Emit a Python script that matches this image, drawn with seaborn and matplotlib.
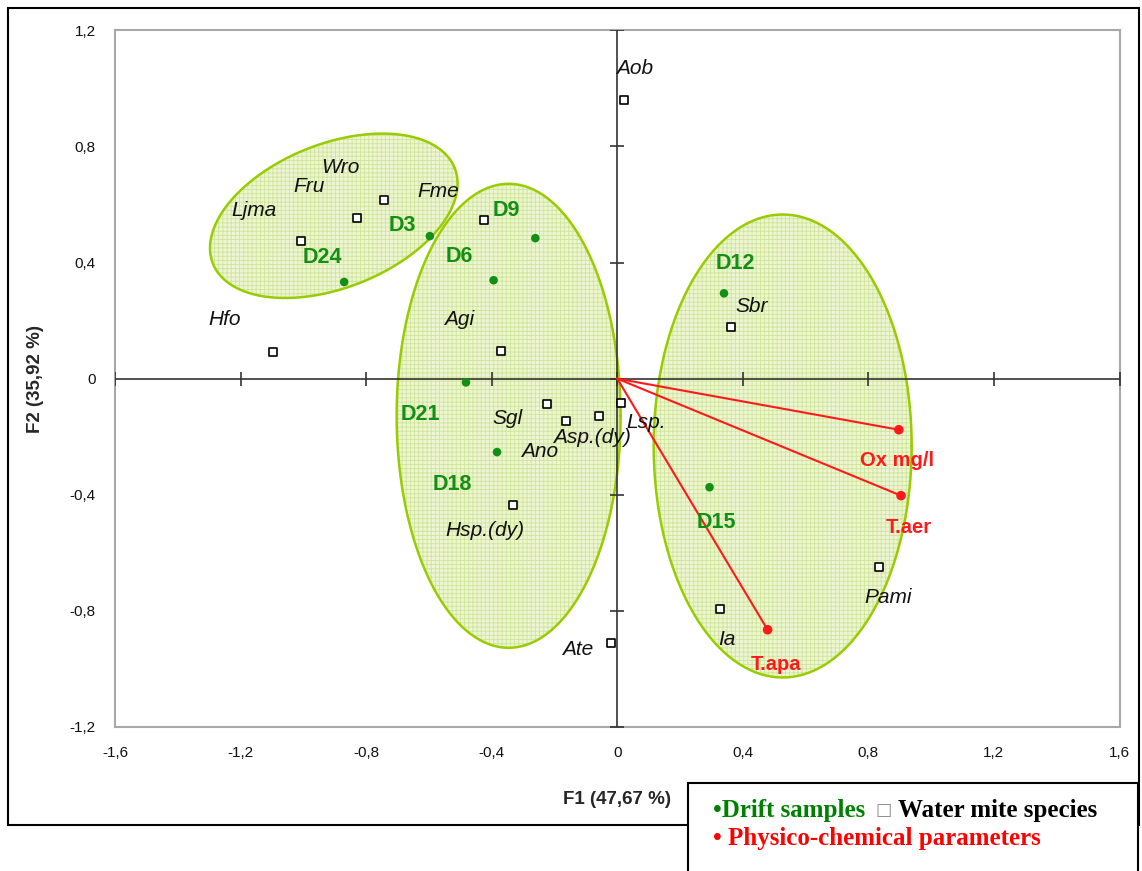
import numpy as np
import pandas as pd
import seaborn as sns
import matplotlib.pyplot as plt
from matplotlib.patches import Rectangle

# --- data ----------------------------------------------------------------
species = ["Aob", "Wro", "Fru", "Ljma", "Fme", "Hfo", "Agi", "Sgl", "Ano",
           "Asp.(dy)", "Lsp.", "Hsp.(dy)", "Ate", "Ia", "Pami", "Sbr"]
species_f1 = [0.020, -0.744, -0.830, -1.006, -0.424, -1.098, -0.371, -0.225,
              -0.162, -0.057, 0.012, -0.331, -0.021, 0.327, 0.834, 0.362]
species_f2 = [0.959, 0.617, 0.555, 0.473, 0.548, 0.093, 0.095, -0.089,
              -0.145, -0.127, -0.083, -0.436, -0.909, -0.795, -0.650, 0.177]

samples = ["D3", "D6", "D9", "D12", "D15", "D18", "D21", "D24"]
samples_f1 = [-0.597, -0.394, -0.261, 0.340, 0.294, -0.383, -0.482, -0.870]
samples_f2 = [0.491, 0.339, 0.484, 0.294, -0.374, -0.253, -0.013, 0.333]

params = ["Ox mg/l", "T.aer", "T.apa"]
params_f1 = [0.897, 0.904, 0.479]
params_f2 = [-0.176, -0.403, -0.865]

xticks = [-1.6, -1.2, -0.8, -0.4, 0.0, 0.4, 0.8, 1.2, 1.6]
xtick_labels = ["-1,6", "-1,2", "-0,8", "-0,4", "0", "0,4", "0,8", "1,2", "1,6"]
yticks = [-1.2, -0.8, -0.4, 0.0, 0.4, 0.8, 1.2]
ytick_labels = ["-1,2", "-0,8", "-0,4", "0", "0,4", "0,8", "1,2"]

# label offsets in pixels (dx, dy up)
species_off = {"Aob": (11, 32), "Wro": (-43, 32), "Fru": (-48, 31), "Ljma": (-47, 31),
               "Fme": (-46, 28), "Hfo": (-48, 32), "Agi": (-42, 32), "Sgl": (-39, -14),
               "Ano": (-27, -31), "Asp.(dy)": (-7, -22), "Lsp.": (25, -20),
               "Hsp.(dy)": (-28, -25), "Ate": (-33, -7), "Ia": (7, -30),
               "Pami": (9, -30), "Sbr": (21, 21)}
samples_off = {"D3": (-28, 11), "D6": (-34, 24), "D9": (-29, 28), "D12": (11, 30),
               "D15": (7, -35), "D18": (-45, -32), "D21": (-46, -32), "D24": (-22, 24)}
params_off = {"Ox mg/l": (-2, -31), "T.aer": (8, -32), "T.apa": (8, -35)}

# group ellipses: centre (data), semi-axes (pixels), rotation (deg)
ellipses = [(-0.903, 0.561, 130, 72, 21.5),
            (-0.346, -0.128, 112, 232, 0),
            (0.527, -0.232, 129, 231.5, 0)]

df_sp = pd.DataFrame({"F1": species_f1, "F2": species_f2, "name": species})
df_sa = pd.DataFrame({"F1": samples_f1, "F2": samples_f2, "name": samples})
df_pa = pd.DataFrame({"F1": params_f1, "F2": params_f2, "name": params})

sns.set_theme(style="white")
plt.rcParams["font.family"] = ["Liberation Sans", "DejaVu Sans"]
plt.rcParams["hatch.linewidth"] = 0.6

W, H = 1142, 871
fig = plt.figure(figsize=(W / 100, H / 100), dpi=100)
ax = fig.add_axes([115 / W, (H - 727) / H, 1004.5 / W, 696.7 / H])
ax.set_xlim(-1.6, 1.6)
ax.set_ylim(-1.2, 1.2)

sx = 1004.5 / 3.2
sy = 696.7 / 2.4

t = np.linspace(0, 2 * np.pi, 300)
for cx, cy, a, b, ang in ellipses:
    th = np.deg2rad(ang)
    u = a * np.cos(t) * np.cos(th) - b * np.sin(t) * np.sin(th)
    v = a * np.cos(t) * np.sin(th) + b * np.sin(t) * np.cos(th)
    ex, ey = cx + u / sx, cy + v / sy
    ax.fill(ex, ey, facecolor="#edf5d4", edgecolor="#cfe597", hatch="++++",
            linewidth=0, zorder=1)
    ax.plot(ex, ey, color="#99cc00", lw=1.8, zorder=2)

# zero axes with crossing ticks
ax.axhline(0, color="#333333", lw=1.2, zorder=3)
ax.axvline(0, color="#333333", lw=1.2, zorder=3)
ax.plot(xticks, np.zeros(len(xticks)), ls="", marker="|", ms=10, mew=1.2,
        color="#333333", zorder=3)
ax.plot(np.zeros(len(yticks)), yticks, ls="", marker="_", ms=10, mew=1.2,
        color="#333333", zorder=3)

# vectors for physico-chemical parameters
for x, y in zip(params_f1, params_f2):
    ax.plot([0, x], [0, y], color="#ff1a1a", lw=1.5, zorder=4)

sns.scatterplot(data=df_sp, x="F1", y="F2", marker="s", s=30, facecolor="white",
                edgecolor="black", linewidth=1.2, ax=ax, zorder=5)
sns.scatterplot(data=df_sa, x="F1", y="F2", marker="o", s=38, color="#138f13",
                edgecolor="none", ax=ax, zorder=5)
sns.scatterplot(data=df_pa, x="F1", y="F2", marker="o", s=48, color="#ff1a1a",
                edgecolor="none", ax=ax, zorder=5)

for _, r in df_sp.iterrows():
    ax.annotate(r["name"], (r["F1"], r["F2"]), xytext=species_off[r["name"]],
                textcoords="offset pixels", ha="center", va="center",
                fontsize=15, style="italic", color="#111111", zorder=6)
for _, r in df_sa.iterrows():
    ax.annotate(r["name"], (r["F1"], r["F2"]), xytext=samples_off[r["name"]],
                textcoords="offset pixels", ha="center", va="center",
                fontsize=15.5, weight="bold", color="#138f13", zorder=6)
for _, r in df_pa.iterrows():
    ax.annotate(r["name"], (r["F1"], r["F2"]), xytext=params_off[r["name"]],
                textcoords="offset pixels", ha="center", va="center",
                fontsize=14.5, weight="bold", color="#ff1a1a", zorder=6)

ax.set_xticks(xticks)
ax.set_xticklabels(xtick_labels, fontsize=11)
ax.set_yticks(yticks)
ax.set_yticklabels(ytick_labels, fontsize=11)
ax.tick_params(length=0, pad=14, colors="#111111")
for s in ax.spines.values():
    s.set_color("#a8a8a8")
    s.set_linewidth(1.5)
ax.set_xlabel("F1 (47,67 %)", fontsize=13.5, weight="bold", labelpad=22)
ax.set_ylabel("F2 (35,92 %)", fontsize=13.5, weight="bold", labelpad=18)

# outer border and legend box
fig.patches.append(Rectangle((8 / W, (H - 825) / H), 1131 / W, 817 / H,
                             transform=fig.transFigure, fill=False,
                             edgecolor="black", lw=1.5))
fig.patches.append(Rectangle((688 / W, -0.02), 450 / W, (H - 783) / H + 0.02,
                             transform=fig.transFigure, facecolor="white",
                             edgecolor="black", lw=1.5, zorder=10))

serif = ["Liberation Serif", "DejaVu Serif"]
fig.text(713 / W, 1 - 810 / H, "\u2022Drift samples", color="#008000",
         fontsize=18, weight="bold", family=serif, va="center", zorder=11)
fig.text(875 / W, 1 - 810 / H, "\u25a1", color="#8c8c8c", fontsize=12.5,
         family=["DejaVu Sans"], va="center", zorder=11)
fig.text(898 / W, 1 - 810 / H, "Water mite species", color="black",
         fontsize=18, weight="bold", family=serif, va="center", zorder=11)
fig.text(713 / W, 1 - 838 / H, "\u2022 Physico-chemical parameters", color="#ff0000",
         fontsize=18, weight="bold", family=serif, va="center", zorder=11)

fig.savefig("out.png", dpi=100)
